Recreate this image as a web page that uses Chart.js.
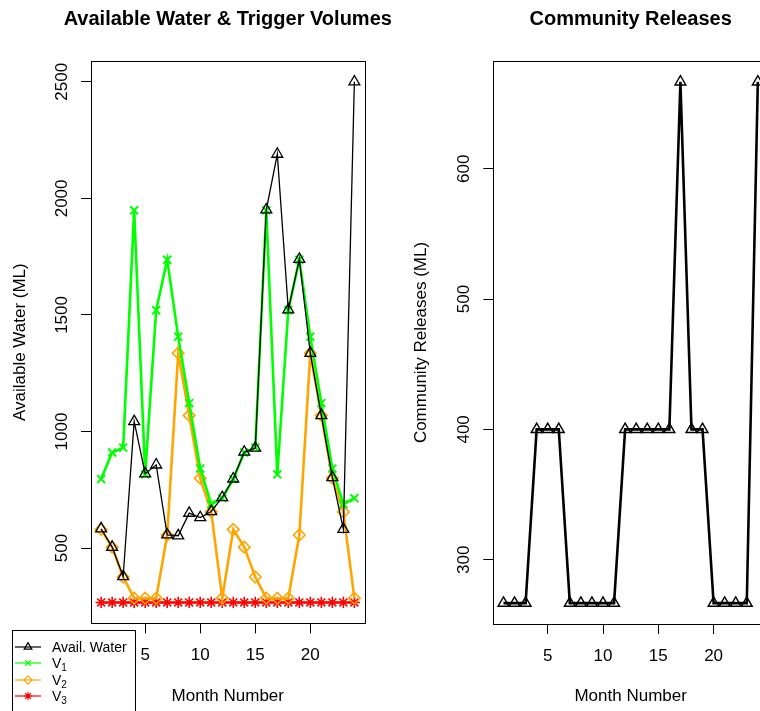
<!DOCTYPE html>
<html lang="en">
<head>
    <meta charset="UTF-8">
    <title>Water Balance</title>
    <script src="https://cdn.jsdelivr.net/npm/chart.js"></script>
    <style>
        html, body { margin: 0; padding: 0; background: #fff; }
        body { width: 760px; height: 711px; overflow: hidden; position: relative; font-family: "Liberation Sans", Arial, sans-serif; }
        #waterChart { position: absolute; left: 0; top: 0; }
        #releaseChart { position: absolute; left: 400px; top: 0; }
        #legend {
            position: absolute; left: 12px; top: 630px; width: 122px; height: 95px;
            border: 1px solid #000; background: #fff; z-index: 2;
        }
        #legend .row { position: absolute; left: 0; height: 16px; display: flex; align-items: center; }
        #legend canvas { display: block; }
        #legend span { font-size: 14px; color: #000; margin-left: 9px; white-space: nowrap; }
        #legend sub { font-size: 10px; vertical-align: -3px; line-height: 0; }
    </style>
</head>
<body>
    <canvas id="waterChart" width="400" height="711"></canvas>
    <canvas id="releaseChart" width="380" height="711"></canvas>
    <div id="legend"></div>

    <script>
        // monthly series (ML)
        const months = [1, 2, 3, 4, 5, 6, 7, 8, 9, 10, 11, 12, 13, 14, 15, 16, 17, 18, 19, 20, 21, 22, 23, 24];
        const availWater = [583, 504, 378, 1043, 819, 857, 557, 553, 650, 631, 657, 717,
                            797, 912, 929, 1951, 2190, 1522, 1739, 1336, 1069, 803, 581, 2500];
        const v1Volume = [796, 910, 931, 1949, 816, 1520, 1737, 1407, 1122, 841, 688, 714,
                          796, 910, 931, 1949, 816, 1520, 1737, 1407, 1122, 841, 688, 714];
        const v2Volume = [580, 504, 376, 285, 285, 285, 556, 1336, 1069, 800, 655, 285,
                          580, 504, 376, 285, 285, 285, 556, 1336, 1069, 800, 655, 285];
        const v3Volume = [266.67, 266.67, 266.67, 266.67, 266.67, 266.67, 266.67, 266.67, 266.67, 266.67, 266.67, 266.67,
                          266.67, 266.67, 266.67, 266.67, 266.67, 266.67, 266.67, 266.67, 266.67, 266.67, 266.67, 266.67];
        const communityReleases = [266.67, 266.67, 266.67, 400, 400, 400, 266.67, 266.67, 266.67, 266.67, 266.67, 400,
                                   400, 400, 400, 400, 666.67, 400, 400, 266.67, 266.67, 266.67, 266.67, 666.67];

        // axis ticks
        const monthTicks = [5, 10, 15, 20];
        const waterTicks = [500, 1000, 1500, 2000, 2500];
        const releaseTicks = [300, 400, 500, 600];

        const FONT = '"Liberation Sans", Arial, sans-serif';
        Chart.defaults.font.family = FONT;
        Chart.defaults.color = '#000';

        const toPoints = vals => months.map((m, i) => ({ x: m, y: vals[i] }));

        // box round the plot area, vertical y tick labels and the panel title
        const framePlugin = {
            id: 'frame',
            afterDraw(chart, args, opts) {
                const { ctx, chartArea: a } = chart;
                const y = chart.scales.y;
                ctx.save();
                ctx.strokeStyle = '#000';
                ctx.lineWidth = 1;
                ctx.strokeRect(Math.round(a.left) + 0.5, Math.round(a.top) + 0.5,
                    Math.round(a.right - a.left), Math.round(a.bottom - a.top));
                ctx.fillStyle = '#000';
                ctx.textAlign = 'center';
                ctx.textBaseline = 'middle';
                ctx.font = '17px ' + FONT;
                y.ticks.forEach(t => {
                    ctx.save();
                    ctx.translate(a.left - 28.5, y.getPixelForValue(t.value));
                    ctx.rotate(-Math.PI / 2);
                    ctx.fillText(String(t.value), 0, 0);
                    ctx.restore();
                });
                ctx.font = 'bold 20px ' + FONT;
                ctx.fillText(opts.title, (a.left + a.right) / 2, 19);
                ctx.restore();
            }
        };

        function series(label, vals, color, style, width, radius, markWidth) {
            return {
                label: label,
                data: toPoints(vals),
                borderColor: color,
                borderWidth: width,
                pointStyle: style,
                pointRadius: radius,
                pointHoverRadius: radius,
                pointBorderColor: color,
                pointBackgroundColor: 'rgba(0,0,0,0)',
                pointBorderWidth: markWidth,
                tension: 0
            };
        }

        function makeOptions(cfg) {
            return {
                responsive: false,
                animation: false,
                devicePixelRatio: 1,
                layout: { padding: { left: 0, right: cfg.padRight, top: 61, bottom: 0 } },
                plugins: {
                    legend: { display: false },
                    tooltip: { enabled: false },
                    frame: { title: cfg.title }
                },
                scales: {
                    x: {
                        type: 'linear',
                        min: 0.08,
                        max: 24.92,
                        afterBuildTicks: s => { s.ticks = monthTicks.map(v => ({ value: v })); },
                        afterFit: s => { s.height = cfg.xHeight; },
                        border: { display: false },
                        grid: { drawOnChartArea: false, drawTicks: true, tickLength: 10, color: '#000', lineWidth: 1 },
                        ticks: { font: { size: 17 }, padding: 12, maxRotation: 0, autoSkip: false, color: '#000' },
                        title: { display: true, text: 'Month Number', font: { size: 17 }, color: '#000', padding: { top: 0, bottom: 4 } }
                    },
                    y: {
                        type: 'linear',
                        min: cfg.yMin,
                        max: cfg.yMax,
                        afterBuildTicks: s => { s.ticks = cfg.yTicks.map(v => ({ value: v })); },
                        afterFit: s => { s.width = cfg.yWidth; },
                        border: { display: false },
                        grid: { drawOnChartArea: false, drawTicks: true, tickLength: 10, color: '#000', lineWidth: 1 },
                        ticks: { display: false },
                        title: { display: true, text: cfg.yTitle, font: { size: 17 }, color: '#000', padding: { top: cfg.yTitlePad, bottom: 0 } }
                    }
                }
            };
        }

        const waterSets = [
            series('Avail. Water', availWater, '#000000', 'triangle', 1.3, 6.3, 1.3),
            series('V1', v1Volume, '#00ff00', 'crossRot', 2.6, 5.6, 2),
            series('V2', v2Volume, '#ffa500', 'rectRot', 2.6, 5.8, 1.6),
            series('V3', v3Volume, '#ff0000', 'star', 2.6, 5.6, 1.6)
        ];

        new Chart(document.getElementById('waterChart'), {
            type: 'line',
            data: { datasets: waterSets },
            options: makeOptions({
                title: 'Available Water & Trigger Volumes',
                yTitle: 'Available Water (ML)',
                yMin: 177.3, yMax: 2589.3, yTicks: waterTicks,
                yWidth: 91, yTitlePad: 10, xHeight: 87.7, padRight: 35.5
            }),
            plugins: [framePlugin]
        });

        new Chart(document.getElementById('releaseChart'), {
            type: 'line',
            data: { datasets: [series('Community Releases', communityReleases, '#000000', 'triangle', 2.6, 6.3, 1.4)] },
            options: makeOptions({
                title: 'Community Releases',
                yTitle: 'Community Releases (ML)',
                yMin: 250.67, yMax: 682.67, yTicks: releaseTicks,
                yWidth: 93.3, yTitlePad: 11.5, xHeight: 87, padRight: 12
            }),
            plugins: [framePlugin]
        });

        // legend for the left panel
        const legendBox = document.getElementById('legend');
        const legendLabels = ['Avail. Water', 'V<sub>1</sub>', 'V<sub>2</sub>', 'V<sub>3</sub>'];
        waterSets.forEach((ds, i) => {
            const row = document.createElement('div');
            row.className = 'row';
            row.style.top = (7.5 + i * 16.5) + 'px';
            const c = document.createElement('canvas');
            c.width = 30; c.height = 16;
            const g = c.getContext('2d');
            g.strokeStyle = ds.borderColor;
            g.fillStyle = 'rgba(0,0,0,0)';
            g.lineWidth = 1.2;
            g.beginPath(); g.moveTo(2, 8); g.lineTo(28, 8); g.stroke();
            Chart.helpers.drawPoint(g, {
                pointStyle: ds.pointStyle, radius: ds.pointRadius * 0.7, rotation: 0, borderWidth: 1.2
            }, 15, 8);
            const t = document.createElement('span');
            t.innerHTML = legendLabels[i];
            row.appendChild(c);
            row.appendChild(t);
            legendBox.appendChild(row);
        });
    </script>
</body>
</html>
